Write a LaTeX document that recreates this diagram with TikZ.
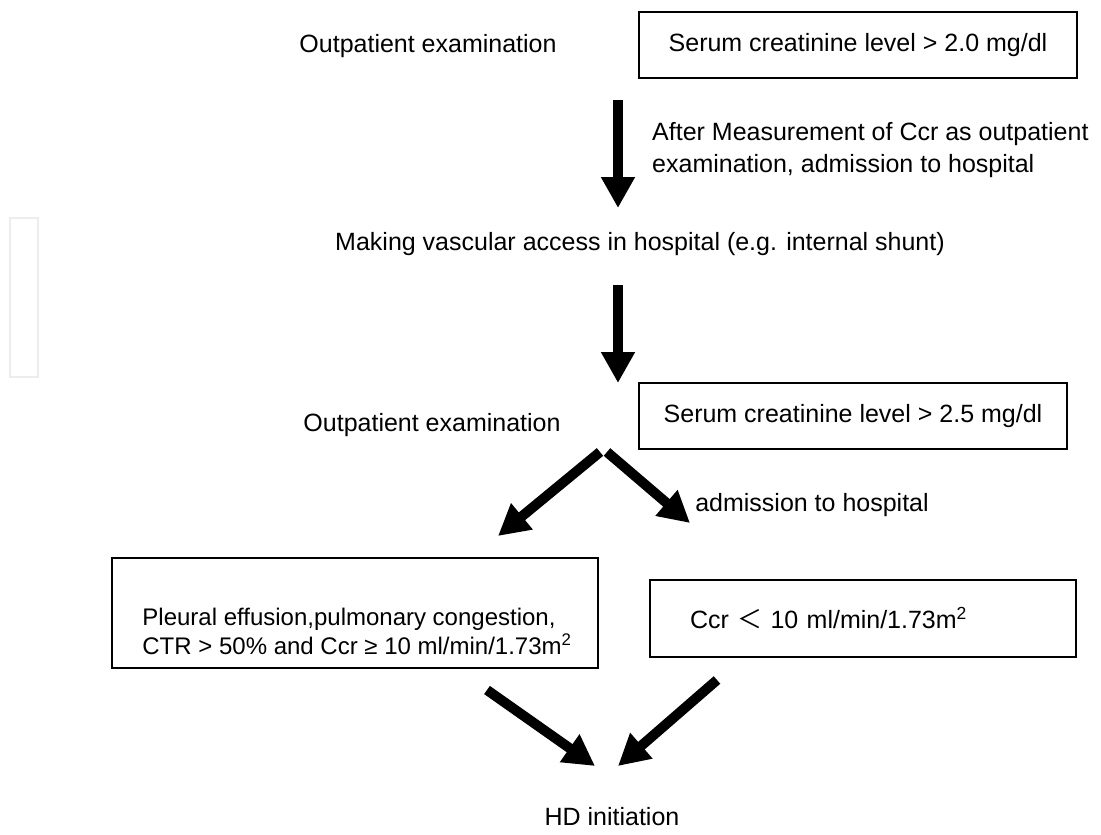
\documentclass[tikz,border=0pt]{standalone}
\usepackage{fontspec}
\setmainfont{Liberation Sans}
\newfontfamily\cjkfont{Noto Sans CJK JP}
\usetikzlibrary{arrows.meta}
\begin{document}
\begin{tikzpicture}[x=1pt,y=-1pt,
  font=\fontsize{25}{32}\selectfont,
  box/.style={draw=black, line width=1.4pt, inner sep=0pt},
  faintbox/.style={draw={rgb,255:red,236;green,238;blue,238}, line width=2pt, inner sep=0pt},
  bigarrow/.style={line width=10pt, -{Triangle[length=31pt,width=32pt]}},
  plain/.style={inner sep=0pt}]
\useasboundingbox (0,0) rectangle (1101,835);
\fill[white] (0,0) rectangle (1101,835);

\node[faintbox, minimum width=28pt, minimum height=159pt] (ghost) at (24,297.5) {};

\node[plain] (out1) at (428,46) {Outpatient examination};
\node[box, minimum width=438pt, minimum height=66pt, align=center] (b1) at (858,45) {Serum creatinine level > 2.0 mg/dl};

\coordinate (a1s) at (618,100);
\coordinate (a1e) at (618,208);
\draw[bigarrow] (a1s) -- (a1e);
\node[plain, anchor=west, align=left] (lab1) at (652,150) {After Measurement of Ccr as outpatient\\examination, admission to hospital};

\node[plain] (mk) at (640,244) {Making vascular access in hospital (e.g. internal shunt)};

\coordinate (a2s) at (618,285);
\coordinate (a2e) at (618,383);
\draw[bigarrow] (a2s) -- (a2e);

\node[plain] (out2) at (432,425) {Outpatient examination};
\node[box, minimum width=428pt, minimum height=66pt, align=center] (b2) at (853,416) {Serum creatinine level > 2.5 mg/dl};

\coordinate (a3s) at (600,452);
\coordinate (a3e) at (498,536);
\draw[bigarrow] (a3s) -- (a3e);
\coordinate (a4s) at (607,452);
\coordinate (a4e) at (690,523);
\draw[bigarrow] (a4s) -- (a4e);
\node[plain] (adm) at (812,505) {admission to hospital};

\node[box, minimum width=486pt, minimum height=110pt] (lb) at (355,613) {};
\node[plain, align=left, font=\fontsize{24}{29}\selectfont] (lbt) at (357,631) {Pleural effusion,pulmonary congestion,\\CTR > 50\% and Ccr ≥ 10 ml/min/1.73m\textsuperscript{2}};
\node[box, minimum width=426pt, minimum height=77pt, inner xsep=40pt, text width=346pt, align=left] (rb) at (863,618.5) {Ccr {\cjkfont ＜} 10 ml/min/1.73m\textsuperscript{2}};

\coordinate (a5s) at (487,690);
\coordinate (a5e) at (595,766);
\draw[bigarrow] (a5s) -- (a5e);
\coordinate (a6s) at (717,680);
\coordinate (a6e) at (618,766);
\draw[bigarrow] (a6s) -- (a6e);

\node[plain] (hd) at (612,817) {HD initiation};
\end{tikzpicture}
\end{document}
